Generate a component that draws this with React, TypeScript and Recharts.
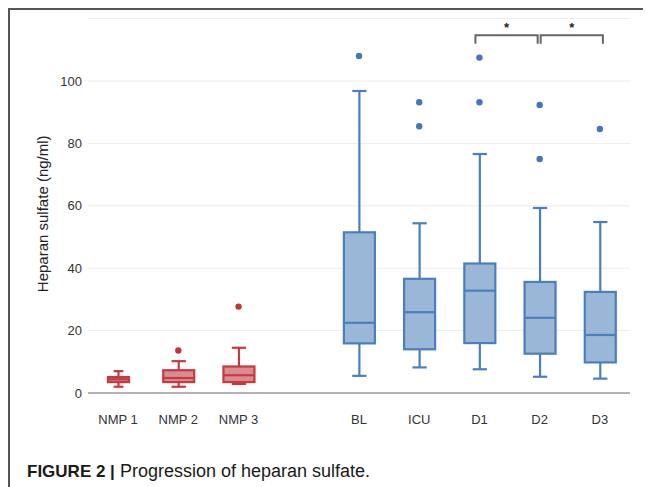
import React from "react";
import {
  ComposedChart,
  Bar,
  Scatter,
  XAxis,
  YAxis,
  CartesianGrid,
  ReferenceLine
} from "recharts";

// box plot stats per group (ng/ml), "" is the spacer slot
const categories = ["NMP 1", "NMP 2", "NMP 3", "", "BL", "ICU", "D1", "D2", "D3"];
const groups = ["NMP", "NMP", "NMP", null, "patient", "patient", "patient", "patient", "patient"];
const mins = [2.0, 2.0, 2.9, null, 5.5, 8.2, 7.6, 5.2, 4.6];
const q1s = [3.5, 3.5, 3.5, null, 15.9, 14.0, 16.0, 12.6, 9.8];
const medians = [4.4, 4.8, 5.7, null, 22.5, 25.9, 32.8, 24.1, 18.6];
const q3s = [5.1, 7.3, 8.5, null, 51.5, 36.6, 41.5, 35.6, 32.4];
const maxs = [7.0, 10.2, 14.5, null, 96.8, 54.4, 76.6, 59.3, 54.8];
const outliersA = [null, 13.6, 27.7, null, 108, 93.2, 107.5, 92.3, 84.6];
const outliersB = [null, null, null, null, null, 85.5, 93.2, 75, null];

const yTicks = [0, 20, 40, 60, 80, 100];
const sigPairs = [
  ["D1", "D2"],
  ["D2", "D3"]
];
const sigLabels = ["*", "*"];
const sigLevel = 114.7;

const data = categories.map((name, i) => ({
  name,
  group: groups[i],
  min: mins[i],
  q1: q1s[i],
  median: medians[i],
  q3: q3s[i],
  max: maxs[i],
  range: mins[i] == null ? null : [mins[i], maxs[i]],
  outA: outliersA[i],
  outB: outliersB[i]
}));

const palette: any = {
  NMP: { stroke: "#c43a40", fill: "#d98d90", dot: "#c2353b" },
  patient: { stroke: "#4a7ebd", fill: "#9bb7d8", dot: "#4574c0" }
};

const font = "'Liberation Sans', Arial, sans-serif";

function BoxShape(props: any) {
  const { x, y, width, height, payload } = props;
  if (!payload || payload.min == null || height == null) return <g />;
  const c = palette[payload.group];
  const w = payload.name === "NMP 1" ? width * 0.68 : width;
  const cx = x + width / 2;
  const left = cx - w / 2;
  const span = payload.max - payload.min;
  const pix = (v: number) => y + (height * (payload.max - v)) / span;
  const cap = w * 0.46;
  const sw = 2.2;
  return (
    <g>
      <line x1={cx} x2={cx} y1={y} y2={y + height} stroke={c.stroke} strokeWidth={sw} />
      <line x1={cx - cap / 2} x2={cx + cap / 2} y1={y} y2={y} stroke={c.stroke} strokeWidth={sw} />
      <line
        x1={cx - cap / 2}
        x2={cx + cap / 2}
        y1={y + height}
        y2={y + height}
        stroke={c.stroke}
        strokeWidth={sw}
      />
      <rect
        x={left}
        y={pix(payload.q3)}
        width={w}
        height={pix(payload.q1) - pix(payload.q3)}
        fill={c.fill}
        stroke={c.stroke}
        strokeWidth={sw}
      />
      <line
        x1={left}
        x2={left + w}
        y1={pix(payload.median)}
        y2={pix(payload.median)}
        stroke={c.stroke}
        strokeWidth={sw}
      />
    </g>
  );
}

function OutlierDot(props: any) {
  const { cx, cy, payload } = props;
  if (cx == null || cy == null || isNaN(cy) || !payload || !payload.group) return <g />;
  return <circle cx={cx} cy={cy} r={3.2} fill={palette[payload.group].dot} />;
}

function bracket(dl: number, dr: number, label: string) {
  return (p: any) => {
    const l = p.x1 + dl;
    const r = p.x2 + dr;
    const top = p.y1;
    return (
      <g>
        <path
          d={`M${l},${top + 8.5} V${top} H${r} V${top + 8.5}`}
          fill="none"
          stroke="#666"
          strokeWidth={2}
        />
        <text
          x={(l + r) / 2}
          y={top - 3}
          textAnchor="middle"
          fontSize={13}
          fontWeight="bold"
          fontFamily={font}
          fill="#222"
        >
          {label}
        </text>
      </g>
    );
  };
}

const bracketOffsets = [
  [-4, -2],
  [1, 3]
];

export default function App() {
  return (
    <div
      style={{
        position: "relative",
        width: 643,
        height: 479,
        boxSizing: "border-box",
        borderTop: "2px solid #555",
        borderLeft: "2px solid #555",
        fontFamily: font
      }}
    >
      <div style={{ position: "absolute", left: 0, top: 0 }}>
        <ComposedChart
          width={641}
          height={430}
          data={data}
          margin={{ top: 8.6, right: 21, bottom: 17, left: 0 }}
          barSize={31}
        >
          <CartesianGrid vertical={false} stroke="#ececec" strokeWidth={1} />
          <XAxis
            dataKey="name"
            type="category"
            height={30}
            tickLine={false}
            tickSize={0}
            tickMargin={22}
            axisLine={{ stroke: "#b3b3b3", strokeWidth: 2 }}
            tick={{ fill: "#333", fontSize: 13, fontFamily: font }}
            interval={0}
          />
          <YAxis
            type="number"
            domain={[0, 120]}
            ticks={yTicks}
            width={78}
            axisLine={false}
            tickLine={false}
            tickSize={0}
            tickMargin={6}
            tick={{ fill: "#333", fontSize: 13, fontFamily: font }}
            label={{
              content: (lp: any) => {
                const vb = lp.viewBox || {};
                const lx = 33;
                const ly = (vb.y ?? 8.6) + (vb.height ?? 374.4) / 2 + 8;
                return (
                  <text
                    x={lx}
                    y={ly}
                    transform={`rotate(-90 ${lx} ${ly})`}
                    textAnchor="middle"
                    dominantBaseline="central"
                    fontSize={15}
                    fontFamily={font}
                    fill="#222"
                  >
                    Heparan sulfate (ng/ml)
                  </text>
                );
              }
            }}
          />
          <Bar dataKey="range" shape={BoxShape} isAnimationActive={false} />
          <Scatter dataKey="outA" shape={OutlierDot} isAnimationActive={false} />
          <Scatter dataKey="outB" shape={OutlierDot} isAnimationActive={false} />
          {sigPairs.map((pair, i) => (
            <ReferenceLine
              key={i}
              segment={[
                { x: pair[0], y: sigLevel },
                { x: pair[1], y: sigLevel }
              ]}
              ifOverflow="visible"
              shape={bracket(bracketOffsets[i][0], bracketOffsets[i][1], sigLabels[i])}
            />
          ))}
        </ComposedChart>
      </div>
      <div
        style={{
          position: "absolute",
          left: 17,
          top: 451,
          fontSize: 18,
          lineHeight: "20px",
          color: "#1a1a1a",
          whiteSpace: "nowrap"
        }}
      >
        <b style={{ fontSize: 17 }}>FIGURE 2 |</b> Progression of heparan sulfate.
      </div>
    </div>
  );
}
